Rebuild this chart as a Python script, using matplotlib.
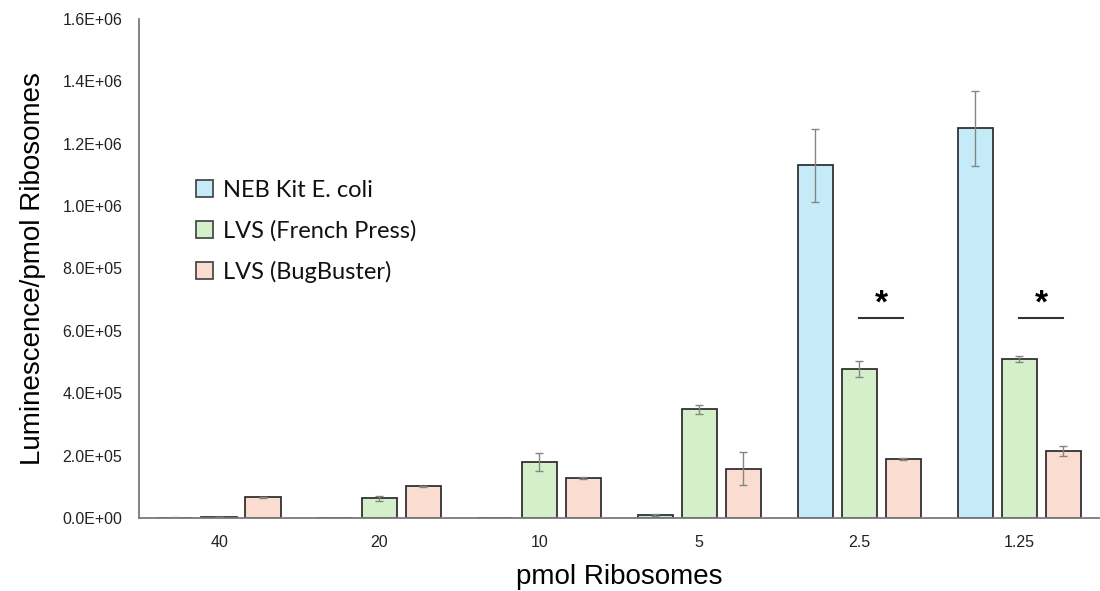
import numpy as np
import matplotlib.pyplot as plt
from matplotlib.ticker import FuncFormatter

# pmol ribosomes per reaction
doses = ['40', '20', '10', '5', '2.5', '1.25']

neb = [1500, 1000, 1200, 11000, 1131000, 1249000]
neb_err = [500, 300, 400, 3000, 117000, 121000]

french = [3000, 64000, 179000, 348000, 477000, 509000]
french_err = [800, 8000, 29000, 13000, 26000, 10000]

bugbuster = [66000, 102000, 127000, 158000, 190000, 215000]
bugbuster_err = [2000, 2000, 3000, 53000, 4000, 15000]

series = [
    ('NEB Kit E. coli', neb, neb_err, '#C5EBF8'),
    ('LVS (French Press)', french, french_err, '#D5EFCB'),
    ('LVS (BugBuster)', bugbuster, bugbuster_err, '#FADDD0'),
]

# groups where French Press vs BugBuster differ significantly
signif = ['2.5', '1.25']
signif_y = 640000

plt.rcParams['font.family'] = ['Liberation Sans', 'DejaVu Sans']

fig = plt.figure(figsize=(11, 5.91), dpi=100)
ax = fig.add_axes([0.1264, 0.1235, 0.873, 0.8444])

x = np.arange(len(doses))
step = 0.275
width = 0.22
for i, (name, vals, errs, col) in enumerate(series):
    pos = x + (i - 1) * step
    ax.bar(pos, vals, width, color=col, edgecolor='#2a2a2a', linewidth=1.25,
           label=name, zorder=2)
    ax.errorbar(pos, vals, yerr=errs, fmt='none', ecolor='#858585',
                elinewidth=1.0, capsize=3.2, capthick=1.0, zorder=3)

for d in signif:
    i = doses.index(d)
    x0, x1 = x[i], x[i] + step
    ax.plot([x0, x1], [signif_y, signif_y], color='#333333', lw=1.5)
    ax.text((x0 + x1) / 2, signif_y - 4000, '*', ha='center', va='bottom',
            fontsize=24, fontweight='bold')

ax.set_xlim(-0.5, len(doses) - 0.5)
ax.set_ylim(0, 1.6e6)
ax.set_yticks(np.arange(0, 1.61e6, 2e5))
ax.yaxis.set_major_formatter(FuncFormatter(lambda v, p: f'{v:.1E}'))
ax.set_xticks(x)
ax.set_xticklabels(doses)
ax.tick_params(axis='both', length=0, labelsize=11.5, colors='#222222')
ax.tick_params(axis='x', pad=12)
ax.tick_params(axis='y', pad=12)

for s in ['top', 'right']:
    ax.spines[s].set_visible(False)
for s in ['left', 'bottom']:
    ax.spines[s].set_color('#7a7a7a')
    ax.spines[s].set_linewidth(1.3)

ax.set_xlabel('pmol Ribosomes', fontsize=20, labelpad=10)
ax.set_ylabel('Luminescence/pmol Ribosomes', fontsize=20, labelpad=12)

leg = ax.legend(loc='upper left', bbox_to_anchor=(0.0594, 0.678), frameon=False,
                handlelength=0.72, handleheight=0.72, handletextpad=0.4,
                labelspacing=0.82, borderpad=0, borderaxespad=0,
                prop={'family': 'Lato', 'size': 17})
for h in leg.legend_handles:
    h.set_edgecolor('#444444')
for t in leg.get_texts():
    t.set_color('#111111')

fig.savefig('out.png', dpi=100)
